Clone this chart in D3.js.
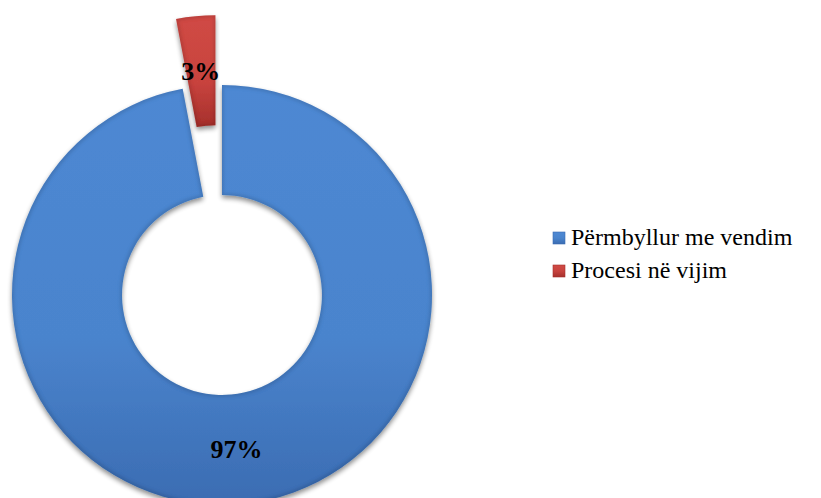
<!DOCTYPE html>
<html>
<head>
<meta charset="utf-8">
<script src="https://cdn.jsdelivr.net/npm/d3@7"></script>
<style>
  html, body { margin: 0; padding: 0; background: #ffffff; }
  svg { display: block; }
  .serif { font-family: "Liberation Serif", "Times New Roman", Times, serif; }
</style>
</head>
<body>
<svg id="chart" width="821" height="498"></svg>
<script>
// Case status shares
const categories = ["Përmbyllur me vendim", "Procesi në vijim"];
const values = [97, 3];
const labels = ["97%", "3%"];
const colors = ["#4a84cd", "#c8433e"];
const darkColors = ["#3b6cb2", "#a5302c"];
const lightColors = ["#4e88d3", "#d04a45"];
const explode = [0, 70];

const svg = d3.select("#chart");
const defs = svg.append("defs");

// slightly shaded fills per slice
categories.forEach((c, i) => {
  const g = defs.append("linearGradient")
    .attr("id", "grad" + i)
    .attr("x1", 0).attr("y1", 0).attr("x2", 0).attr("y2", 1);
  g.append("stop").attr("offset", "0%").attr("stop-color", lightColors[i]);
  g.append("stop").attr("offset", "60%").attr("stop-color", colors[i]);
  g.append("stop").attr("offset", "100%").attr("stop-color", darkColors[i]);

  const lg = defs.append("linearGradient")
    .attr("id", "lgrad" + i)
    .attr("x1", 0).attr("y1", 0).attr("x2", 0).attr("y2", 1);
  lg.append("stop").attr("offset", "0%").attr("stop-color", lightColors[i]);
  lg.append("stop").attr("offset", "50%").attr("stop-color", colors[i]);
  lg.append("stop").attr("offset", "100%").attr("stop-color", darkColors[i]);
});

// soft shadow under slices plus darkened rim
const bevel = defs.append("filter").attr("id", "bevel")
  .attr("x", "-10%").attr("y", "-10%").attr("width", "120%").attr("height", "120%");
bevel.append("feMorphology").attr("in", "SourceAlpha").attr("operator", "erode")
  .attr("radius", 2).attr("result", "er");
bevel.append("feGaussianBlur").attr("in", "er").attr("stdDeviation", 1.5).attr("result", "erb");
bevel.append("feComposite").attr("in", "SourceAlpha").attr("in2", "erb")
  .attr("operator", "out").attr("result", "rim");
bevel.append("feFlood").attr("flood-color", "#000").attr("flood-opacity", 0.22).attr("result", "rc");
bevel.append("feComposite").attr("in", "rc").attr("in2", "rim").attr("operator", "in").attr("result", "rimc");
bevel.append("feGaussianBlur").attr("in", "SourceAlpha").attr("stdDeviation", 2.5).attr("result", "sb");
bevel.append("feOffset").attr("in", "sb").attr("dy", 2.5).attr("result", "so");
bevel.append("feComponentTransfer").attr("in", "so").attr("result", "shadow")
  .append("feFuncA").attr("type", "linear").attr("slope", 0.45);
const merge = bevel.append("feMerge");
merge.append("feMergeNode").attr("in", "shadow");
merge.append("feMergeNode").attr("in", "SourceGraphic");
merge.append("feMergeNode").attr("in", "rimc");

const cx = 222, cy = 295;
const outerR = 210, innerR = 100;

const pie = d3.pie().sort(null).value(d => d)
  .startAngle(0).endAngle(2 * Math.PI);
const arc = d3.arc().innerRadius(innerR).outerRadius(outerR);

const arcs = pie(values);

const g = svg.append("g").attr("transform", `translate(${cx},${cy})`);

const offset = (d, i) => {
  const a = (d.startAngle + d.endAngle) / 2;
  return [Math.sin(a) * explode[i], -Math.cos(a) * explode[i]];
};

g.selectAll("path.slice")
  .data(arcs)
  .join("path")
  .attr("class", "slice")
  .attr("d", arc)
  .attr("transform", (d, i) => `translate(${offset(d, i)})`)
  .attr("fill", (d, i) => `url(#grad${i})`)
  .attr("filter", "url(#bevel)");

g.selectAll("text.val")
  .data(arcs)
  .join("text")
  .attr("class", "val serif")
  .attr("transform", (d, i) => {
    const [x, y] = arc.centroid(d);
    const [ox, oy] = offset(d, i);
    return `translate(${x + ox},${y + oy})`;
  })
  .attr("text-anchor", "middle")
  .attr("dy", "0.35em")
  .attr("font-weight", "bold")
  .attr("font-size", 26)
  .attr("fill", "#000")
  .text((d, i) => labels[i]);

// legend
const legend = svg.append("g").attr("transform", "translate(553,232)");
const items = legend.selectAll("g.item")
  .data(categories)
  .join("g")
  .attr("class", "item")
  .attr("transform", (d, i) => `translate(0,${i * 33})`);

items.append("rect")
  .attr("width", 12).attr("height", 12)
  .attr("fill", (d, i) => `url(#lgrad${i})`)
  .attr("stroke", (d, i) => darkColors[i]).attr("stroke-width", 0.6);

items.append("text")
  .attr("class", "serif")
  .attr("x", 18).attr("y", 13)
  .attr("font-size", 24)
  .attr("fill", "#000")
  .text(d => d);
</script>
</body>
</html>
